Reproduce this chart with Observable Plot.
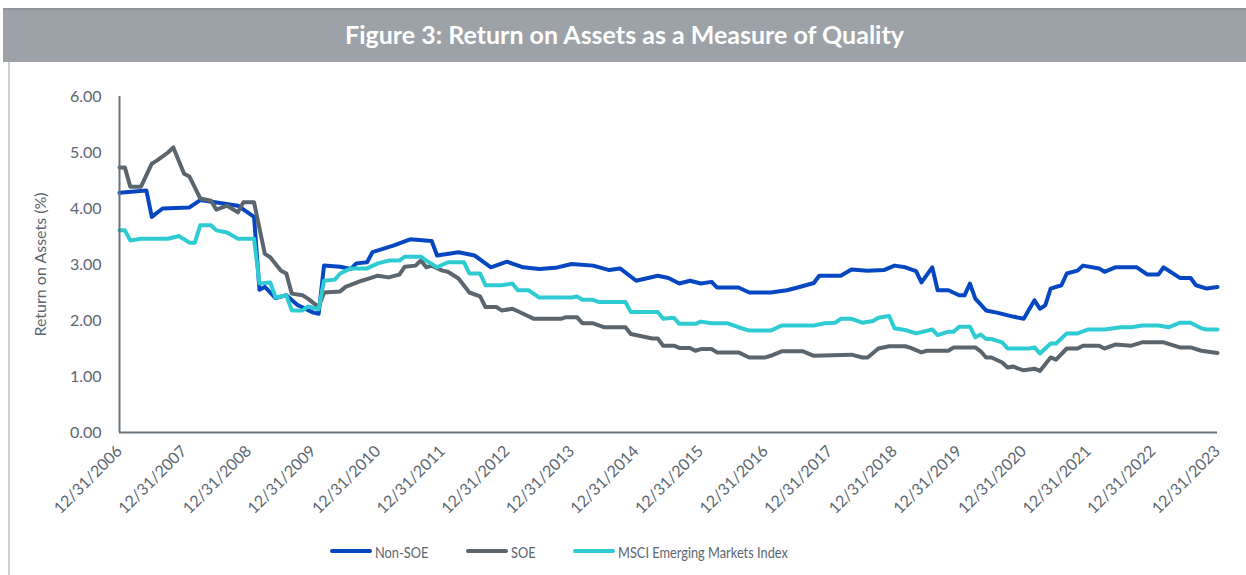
<!DOCTYPE html>
<html><head><meta charset="utf-8">
<script src="https://cdn.jsdelivr.net/npm/d3@7"></script>
<script src="https://cdn.jsdelivr.net/npm/@observablehq/plot@0.6"></script>
<style>
html,body{margin:0;padding:0;background:#fff;width:1246px;height:575px;overflow:hidden;font-family:Lato,"Open Sans",sans-serif;}
#title{position:absolute;left:3px;top:8px;width:1243px;height:52px;background:#9ca2a7;border-top:2px solid #8d9398;color:#fff;font-weight:700;font-size:25px;text-align:center;line-height:48px;}
#leftline{position:absolute;left:8px;top:62px;width:1.5px;height:513px;background:#cdd1d4;}
#chart{position:absolute;left:0;top:62px;}
#legend{position:absolute;left:0;top:539px;width:1246px;height:24px;font-family:Lato,"Open Sans",sans-serif;font-size:16px;color:#5b6670;}
.item{position:absolute;top:0;height:24px;display:flex;align-items:center;white-space:nowrap;}
.sw{width:42px;height:4px;border-radius:2px;margin-right:3px;flex:none;}
.lab{display:inline-block;transform:scaleX(0.8);transform-origin:left center;}
</style></head>
<body>
<div id="title">Figure 3: Return on Assets as a Measure of Quality</div>
<div id="leftline"></div>
<div id="chart"></div>
<div id="legend"></div>
<script>
// month index 0 = 12/31/2006
const tickMonths = [0,12,24,36,48,60,72,84,96,108,120,132,144,156,168,180,192,204];
const tickLabels = ["12/31/2006","12/31/2007","12/31/2008","12/31/2009","12/31/2010","12/31/2011","12/31/2012","12/31/2013","12/31/2014","12/31/2015","12/31/2016","12/31/2017","12/31/2018","12/31/2019","12/31/2020","12/31/2021","12/31/2022","12/31/2023"];
const yTicks = [0,1,2,3,4,5,6];
const seriesNames = ["Non-SOE","SOE","MSCI Emerging Markets Index"];
const seriesColors = ["#0447c0","#5a656e","#2fcbd3"];

const nonSoeMonths = [0,5,6,8,13,15,22,25,26,27,29,31,33,36,37,38,41,43,44,46,47,51,54,58,59,63,66,69,72,75,78,81,84,88,91,93,96,100,102,104,106,108,110,111,115,117,121,124,126,129,130,134,136,139,142,144,146,148,149,151,152,154,156,157,158,159,161,163,166,168,170,171,172,173,175,176,178,179,182,183,185,189,191,193,194,197,199,200,202,204];
const nonSoeValues = [4.28,4.32,3.85,4.00,4.02,4.15,4.05,3.85,2.55,2.60,2.40,2.45,2.28,2.14,2.12,2.98,2.96,2.92,3.02,3.04,3.22,3.34,3.45,3.42,3.16,3.22,3.16,2.95,3.05,2.95,2.92,2.94,3.01,2.98,2.90,2.93,2.71,2.80,2.76,2.66,2.71,2.66,2.69,2.59,2.59,2.50,2.50,2.54,2.59,2.67,2.80,2.80,2.91,2.89,2.90,2.98,2.95,2.88,2.68,2.95,2.54,2.54,2.45,2.45,2.66,2.39,2.18,2.14,2.07,2.03,2.36,2.21,2.27,2.57,2.63,2.84,2.89,2.98,2.93,2.87,2.95,2.95,2.82,2.82,2.95,2.76,2.76,2.63,2.57,2.60];

const soeMonths = [0,1,2,4,6,7,9,10,12,13,15,17,18,20,22,23,25,27,28,30,31,32,34,35,37,38,41,42,45,46,48,50,52,53,55,56,57,58,60,61,63,65,67,68,70,71,73,75,77,82,83,85,86,88,90,94,95,97,99,100,101,103,104,106,107,108,110,111,115,117,120,121,123,127,129,136,138,139,141,143,146,147,149,150,154,155,159,160,161,162,164,165,166,167,168,170,171,173,174,176,178,179,182,183,185,188,190,194,197,199,201,204];
const soeValues = [4.73,4.73,4.39,4.39,4.80,4.86,5.00,5.09,4.62,4.57,4.18,4.14,3.98,4.05,3.93,4.11,4.11,3.19,3.13,2.89,2.84,2.48,2.45,2.39,2.24,2.50,2.52,2.60,2.71,2.74,2.80,2.77,2.82,2.96,2.98,3.07,2.95,2.98,2.89,2.87,2.75,2.50,2.43,2.24,2.24,2.18,2.21,2.12,2.03,2.03,2.06,2.06,1.95,1.95,1.88,1.88,1.76,1.72,1.68,1.68,1.55,1.55,1.51,1.51,1.46,1.49,1.49,1.43,1.43,1.34,1.34,1.37,1.45,1.45,1.37,1.39,1.34,1.34,1.50,1.54,1.54,1.51,1.43,1.46,1.46,1.52,1.52,1.45,1.34,1.34,1.25,1.16,1.18,1.14,1.11,1.14,1.10,1.34,1.30,1.50,1.50,1.55,1.55,1.50,1.57,1.55,1.61,1.61,1.52,1.52,1.46,1.42];

const msciMonths = [0,1,2,4,9,11,13,14,15,17,18,20,22,25,26,28,29,31,32,34,35,37,38,40,41,43,46,48,50,52,53,56,57,59,61,64,65,67,68,71,73,74,76,78,84,85,86,88,89,94,95,100,101,103,104,107,108,110,113,115,117,121,123,129,131,133,134,136,138,140,141,143,144,146,148,151,152,154,155,156,158,159,160,161,162,164,165,169,170,171,173,174,176,178,180,183,186,188,190,193,195,197,199,201,202,204];
const msciValues = [3.61,3.61,3.43,3.46,3.46,3.51,3.39,3.39,3.70,3.70,3.61,3.57,3.46,3.46,2.66,2.68,2.41,2.45,2.18,2.18,2.25,2.20,2.71,2.73,2.84,2.93,2.93,3.02,3.07,3.07,3.14,3.14,3.07,2.95,3.04,3.04,2.84,2.84,2.63,2.63,2.66,2.54,2.54,2.41,2.41,2.43,2.37,2.37,2.33,2.33,2.15,2.15,2.03,2.05,1.94,1.94,1.98,1.95,1.95,1.88,1.82,1.82,1.91,1.91,1.95,1.96,2.03,2.03,1.96,1.99,2.05,2.08,1.86,1.83,1.77,1.84,1.74,1.80,1.80,1.89,1.89,1.70,1.75,1.67,1.67,1.61,1.50,1.50,1.52,1.41,1.59,1.59,1.77,1.77,1.84,1.84,1.88,1.88,1.91,1.91,1.88,1.96,1.96,1.86,1.84,1.84];

const rows = [];
[[nonSoeMonths, nonSoeValues], [soeMonths, soeValues], [msciMonths, msciValues]].forEach(([ms, vs], i) => {
  ms.forEach((m, j) => rows.push({series: seriesNames[i], month: m, value: vs[j]}));
});

const textColor = "#5b6670";
const axisColor = "#68727a";

const chart = Plot.plot({
  width: 1246,
  height: 470,
  marginLeft: 119,
  marginRight: 29,
  marginTop: 34,
  marginBottom: 100,
  style: {fontFamily: "Lato, 'Open Sans', sans-serif", color: textColor, background: "transparent"},
  x: {domain: [0, 204]},
  y: {domain: [0, 6]},
  color: {domain: seriesNames, range: seriesColors},
  marks: [
    Plot.axisY({ticks: yTicks, tickSize: 0, tickPadding: 18, tickFormat: d => d.toFixed(2), fontSize: 16, label: null, fill: textColor}),
    Plot.axisX({ticks: tickMonths, tickSize: 0, tickPadding: 16, tickRotate: -45, tickFormat: (d) => tickLabels[tickMonths.indexOf(d)], fontSize: 16, label: null, fill: textColor}),
    Plot.text(["Return on Assets (%)"], {frameAnchor: "left", textAnchor: "middle", rotate: -90, dx: -79, fontSize: 16, fill: textColor}),
    Plot.line(rows, {x: "month", y: "value", z: "series", stroke: "series", strokeWidth: 4, strokeLinejoin: "round", strokeLinecap: "round"}),
    Plot.ruleX([0], {stroke: axisColor, strokeWidth: 2}),
    Plot.ruleY([0], {stroke: axisColor, strokeWidth: 2})
  ]
});
document.getElementById("chart").appendChild(chart);

const legendLeft = [330, 466, 573];
const legend = document.getElementById("legend");
seriesNames.forEach((name, i) => {
  const item = document.createElement("div");
  item.className = "item";
  item.style.left = legendLeft[i] + "px";
  const sw = document.createElement("div");
  sw.className = "sw";
  sw.style.background = seriesColors[i];
  const label = document.createElement("span");
  label.className = "lab";
  label.textContent = name;
  item.appendChild(sw);
  item.appendChild(label);
  legend.appendChild(item);
});
</script>
</body></html>
